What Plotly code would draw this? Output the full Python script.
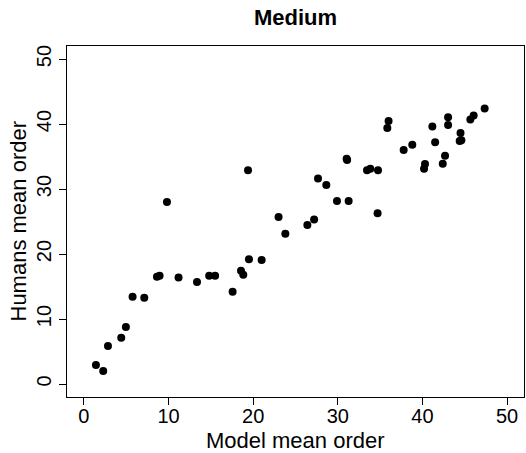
import plotly.graph_objects as go

model_mean_order = [1.42, 2.28, 2.84, 4.41, 4.96, 5.75, 7.13, 8.63, 8.94, 9.81,
                    11.18, 13.36, 14.8, 15.5, 17.57, 18.56, 18.83, 19.39, 19.5, 21.0,
                    23.0, 23.8, 26.4, 27.2, 27.66, 28.64, 29.9, 31.04, 31.1, 31.28,
                    33.45, 33.84, 34.75, 34.7, 36.0, 35.85, 37.78, 38.8, 40.3, 40.19,
                    41.17, 41.5, 42.4, 42.67, 43.03, 43.03, 44.5, 44.6, 44.4, 45.66,
                    46.05, 47.35]
humans_mean_order = [2.92, 2.0, 5.85, 7.13, 8.77, 13.43, 13.28, 16.5, 16.66, 28.0,
                     16.4, 15.7, 16.66, 16.66, 14.2, 17.43, 16.82, 32.88, 19.18, 19.08,
                     25.7, 23.1, 24.46, 25.3, 31.6, 30.6, 28.15, 34.66, 34.45, 28.15,
                     32.9, 33.1, 32.87, 26.26, 40.46, 39.4, 36.0, 36.8, 33.85, 33.1,
                     39.6, 37.2, 33.9, 35.1, 41.03, 39.85, 38.6, 37.5, 37.4, 40.7,
                     41.3, 42.4]
tick_values = [0, 10, 20, 30, 40, 50]

fig = go.Figure(go.Scatter(
    x=model_mean_order, y=humans_mean_order, mode="markers",
    marker=dict(color="black", size=8, line=dict(width=0)),
    showlegend=False))

font = "Liberation Sans, Arial, Helvetica, sans-serif"
W, H = 526, 453
L, R, T, B = 67, 2, 46, 56
pw, ph = W - L - R, H - T - B

axis_common = dict(
    range=[-2, 52], tickvals=tick_values, ticks="outside", ticklen=7, tickwidth=1,
    tickcolor="black", showline=True, linecolor="black", linewidth=1, mirror=True,
    showgrid=False, zeroline=False, automargin=False,
    tickfont=dict(family=font, size=20, color="black"),
)
fig.update_layout(
    width=W, height=H,
    margin=dict(l=L, r=R, t=T, b=B),
    paper_bgcolor="white", plot_bgcolor="white",
    title=dict(text="<b>Medium</b>", x=0.5, xref="paper", y=1 - 17 / H, yref="container",
               xanchor="center", yanchor="middle",
               font=dict(family=font, size=22, color="black")),
    xaxis=dict(axis_common, ticklabelstandoff=-6),
    yaxis=dict(axis_common, tickangle=-90),
    annotations=[
        dict(text="Model mean order", xref="paper", yref="paper", x=0.5,
             y=(T + ph - 440) / ph, xanchor="center", yanchor="middle",
             showarrow=False, font=dict(family=font, size=22, color="black")),
        dict(text="Humans mean order", xref="paper", yref="paper", x=(18 - L) / pw,
             y=0.5, xanchor="center", yanchor="middle", textangle=-90,
             showarrow=False, font=dict(family=font, size=22, color="black")),
    ],
)
fig.write_html("out.html", config={"displayModeBar": False},
               post_script="document.body.style.margin='0px';")
